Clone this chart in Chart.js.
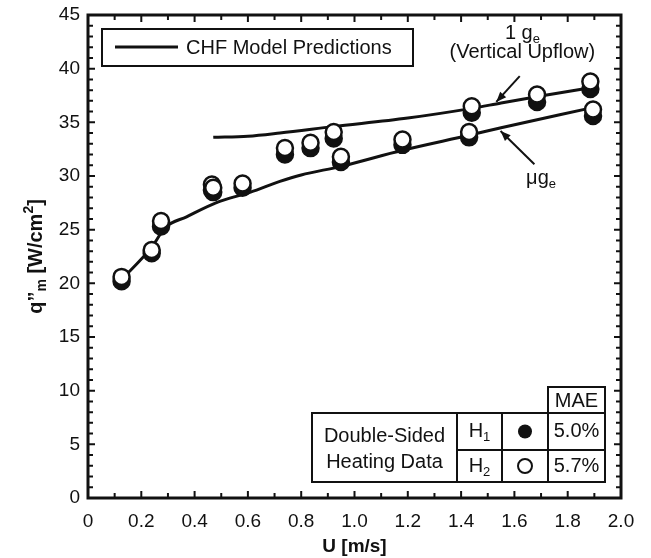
<!DOCTYPE html>
<html>
<head>
<meta charset="utf-8">
<script src="https://cdn.jsdelivr.net/npm/chart.js@4.4.0/dist/chart.umd.min.js"></script>
<style>
  html, body { margin: 0; padding: 0; background: #fff; }
  #wrap { width: 651px; height: 558px; }
</style>
</head>
<body>
<div id="wrap"><canvas id="chf"></canvas></div>
<script>
// measured data, double-sided heating (U [m/s], q"m [W/cm2])
const h2_u = [0.126, 0.239, 0.274, 0.465, 0.47, 0.58, 0.739, 0.835, 0.922, 0.949, 1.18, 1.43, 1.44, 1.685, 1.885, 1.895]
const h2_q = [20.6, 23.1, 25.8, 29.2, 28.9, 29.3, 32.6, 33.1, 34.1, 31.8, 33.4, 34.1, 36.5, 37.6, 38.8, 36.2]
const h1_u = [0.126, 0.239, 0.274, 0.465, 0.47, 0.58, 0.739, 0.835, 0.922, 0.949, 1.18, 1.43, 1.44, 1.685, 1.885, 1.895]
const h1_q = [20.2, 22.8, 25.3, 28.7, 28.5, 28.9, 32.0, 32.6, 33.5, 31.3, 32.9, 33.6, 35.9, 36.9, 38.1, 35.6]

// model predictions
const model_1g_u = [0.47, 0.6, 0.72, 0.92, 1.2, 1.44, 1.55, 1.71, 1.88]
const model_1g_q = [33.6, 33.7, 34.0, 34.6, 35.4, 36.3, 36.8, 37.5, 38.2]
const model_ug_u = [0.12, 0.24, 0.29, 0.37, 0.48, 0.61, 0.72, 0.8, 0.95, 1.18, 1.43, 1.55, 1.88]
const model_ug_q = [20.2, 23.4, 25.2, 26.2, 27.5, 28.5, 29.5, 30.1, 30.9, 32.4, 33.8, 34.5, 36.3]

const mae_rows = [['H', '1', true, '5.0%'], ['H', '2', false, '5.7%']]

const FONT = "'Liberation Sans', Arial, sans-serif"
const TXT = 20

function pts(xs, ys) {
  return xs.map((x, i) => ({ x: x, y: ys[i] }))
}

function textSub(ctx, main, sub, x, y, size) {
  // main text with a subscript, centred on x
  ctx.font = `${size}px ${FONT}`
  let w1 = ctx.measureText(main).width
  ctx.font = `${Math.round(size * 0.65)}px ${FONT}`
  let w2 = ctx.measureText(sub).width
  let x0 = x - (w1 + w2) / 2
  ctx.textAlign = 'left'
  ctx.textBaseline = 'middle'
  ctx.font = `${size}px ${FONT}`
  ctx.fillText(main, x0, y)
  ctx.font = `${Math.round(size * 0.65)}px ${FONT}`
  ctx.fillText(sub, x0 + w1, y + size * 0.3)
}

function arrow(ctx, x1, y1, x2, y2) {
  ctx.save()
  ctx.strokeStyle = '#111'
  ctx.fillStyle = '#111'
  ctx.lineWidth = 2
  ctx.beginPath()
  ctx.moveTo(x1, y1)
  ctx.lineTo(x2, y2)
  ctx.stroke()
  let a = Math.atan2(y2 - y1, x2 - x1)
  let L = 11, W = 0.38
  ctx.beginPath()
  ctx.moveTo(x2, y2)
  ctx.lineTo(x2 - L * Math.cos(a - W), y2 - L * Math.sin(a - W))
  ctx.lineTo(x2 - L * Math.cos(a + W), y2 - L * Math.sin(a + W))
  ctx.closePath()
  ctx.fill()
  ctx.restore()
}

const decorations = {
  id: 'decorations',
  afterDraw(chart) {
    const ctx = chart.ctx
    const a = chart.chartArea
    const xs = chart.scales.x, ys = chart.scales.y
    ctx.save()
    ctx.fillStyle = '#111'
    ctx.strokeStyle = '#111'

    // inward ticks on all four sides
    ctx.lineWidth = 2
    ctx.beginPath()
    for (let i = 1; i < 20; i++) {
      let px = xs.getPixelForValue(i / 10)
      let len = i % 2 == 0 ? 7 : 5
      ctx.moveTo(px, a.bottom); ctx.lineTo(px, a.bottom - len)
      ctx.moveTo(px, a.top); ctx.lineTo(px, a.top + len)
    }
    for (let i = 1; i < 45; i++) {
      let py = ys.getPixelForValue(i)
      let len = i % 5 == 0 ? 7 : 5
      ctx.moveTo(a.left, py); ctx.lineTo(a.left + len, py)
      ctx.moveTo(a.right, py); ctx.lineTo(a.right - len, py)
    }
    ctx.stroke()

    // frame
    ctx.lineWidth = 3
    ctx.strokeRect(a.left, a.top, a.right - a.left, a.bottom - a.top)

    // legend box
    ctx.lineWidth = 2
    ctx.strokeRect(a.left + 14, a.top + 14, 311, 37)
    ctx.lineWidth = 3
    ctx.beginPath()
    ctx.moveTo(a.left + 27, a.top + 32)
    ctx.lineTo(a.left + 90, a.top + 32)
    ctx.stroke()
    ctx.font = `${TXT}px ${FONT}`
    ctx.textAlign = 'left'
    ctx.textBaseline = 'middle'
    ctx.fillText('CHF Model Predictions', a.left + 98, a.top + 33)

    // annotations
    let px = v => xs.getPixelForValue(v), py = v => ys.getPixelForValue(v)
    textSub(ctx, '1 g', 'e', px(1.63), py(43.3), TXT)
    ctx.font = `${TXT}px ${FONT}`
    ctx.textAlign = 'center'
    ctx.fillText('(Vertical Upflow)', px(1.63), py(41.5))
    arrow(ctx, px(1.62), py(39.3), px(1.532), py(36.9))
    textSub(ctx, '\u03bcg', 'e', px(1.7), py(29.8), TXT)
    arrow(ctx, px(1.675), py(31.1), px(1.548), py(34.2))

    // MAE table
    const R = a.right - 16, B = a.bottom - 16
    const c0 = R - 293, c1 = R - 148, c2 = R - 103, c3 = R - 57
    const r0 = B - 95, r1 = B - 69, r2 = B - 32
    ctx.lineWidth = 2
    ctx.strokeRect(c3, r0, R - c3, r1 - r0)
    ctx.strokeRect(c0, r1, R - c0, B - r1)
    ctx.beginPath()
    ctx.moveTo(c1, r1); ctx.lineTo(c1, B)
    ctx.moveTo(c2, r1); ctx.lineTo(c2, B)
    ctx.moveTo(c3, r1); ctx.lineTo(c3, B)
    ctx.moveTo(c1, r2); ctx.lineTo(R, r2)
    ctx.stroke()
    ctx.font = `${TXT}px ${FONT}`
    ctx.textAlign = 'center'
    ctx.textBaseline = 'middle'
    ctx.fillText('MAE', (c3 + R) / 2, (r0 + r1) / 2 + 1)
    ctx.fillText('Double-Sided', (c0 + c1) / 2, r1 + 23)
    ctx.fillText('Heating Data', (c0 + c1) / 2, r1 + 49)
    mae_rows.forEach((row, i) => {
      let top = i == 0 ? r1 : r2, bot = i == 0 ? r2 : B
      let cy = (top + bot) / 2
      textSub(ctx, row[0], row[1], (c1 + c2) / 2, cy, TXT)
      ctx.beginPath()
      ctx.arc((c2 + c3) / 2, cy, 7, 0, Math.PI * 2)
      ctx.lineWidth = 2
      if (row[2]) { ctx.fill() } else { ctx.fillStyle = '#fff'; ctx.fill(); ctx.fillStyle = '#111'; ctx.stroke() }
      ctx.font = `${TXT}px ${FONT}`
      ctx.textAlign = 'center'
      ctx.fillText(row[3], (c3 + R) / 2, cy)
    })

    // y axis title with sub/superscript
    ctx.save()
    ctx.translate(36, (a.top + a.bottom) / 2)
    ctx.rotate(-Math.PI / 2)
    const parts = [['q\u201d', 20, 0], ['m', 14, 6], [' [W/cm', 20, 0], ['2', 14, -7], [']', 20, 0]]
    let total = 0
    parts.forEach(p => { ctx.font = `bold ${p[1]}px ${FONT}`; total += ctx.measureText(p[0]).width })
    let x = -total / 2
    ctx.textAlign = 'left'
    ctx.textBaseline = 'middle'
    parts.forEach(p => {
      ctx.font = `bold ${p[1]}px ${FONT}`
      ctx.fillText(p[0], x, p[2])
      x += ctx.measureText(p[0]).width
    })
    ctx.restore()

    ctx.restore()
  }
}

const data = {
  datasets: [
    { label: 'H2', data: pts(h2_u, h2_q), showLine: false, pointRadius: 8, pointBackgroundColor: '#fff',
      pointBorderColor: '#111', pointBorderWidth: 2.5 },
    { label: 'H1', data: pts(h1_u, h1_q), showLine: false, pointRadius: 8, pointBackgroundColor: '#111',
      pointBorderColor: '#111', pointBorderWidth: 2.5 },
    { label: '1 ge', data: pts(model_1g_u, model_1g_q), showLine: true, pointRadius: 0, borderColor: '#111',
      borderWidth: 3, cubicInterpolationMode: 'monotone' },
    { label: 'ug', data: pts(model_ug_u, model_ug_q), showLine: true, pointRadius: 0, borderColor: '#111',
      borderWidth: 3, cubicInterpolationMode: 'monotone' }
  ]
}

const options = {
  responsive: true,
  maintainAspectRatio: false,
  animation: false,
  layout: { padding: { top: 15, right: 30, left: 0, bottom: 0 } },
  plugins: { legend: { display: false }, tooltip: { enabled: false } },
  scales: {
    x: {
      type: 'linear', min: 0, max: 2,
      grid: { display: false, drawTicks: false },
      border: { display: false },
      ticks: { stepSize: 0.2, color: '#111', padding: 12, maxRotation: 0,
        font: { family: FONT, size: 19 },
        callback: v => v == 0 ? '0' : v.toFixed(1) },
      title: { display: true, text: 'U [m/s]', color: '#111', padding: 0,
        font: { family: FONT, size: 19, weight: 'bold' } },
      afterFit: s => { s.height = 60; s.paddingRight = 0 }
    },
    y: {
      type: 'linear', min: 0, max: 45,
      grid: { display: false, drawTicks: false },
      border: { display: false },
      ticks: { stepSize: 5, color: '#111', padding: 8, font: { family: FONT, size: 19 } },
      afterFit: s => { s.width = 88; s.paddingTop = 0; s.paddingBottom = 0 }
    }
  }
}

new Chart(document.getElementById('chf'), { type: 'scatter', data, options, plugins: [decorations] })
</script>
</body>
</html>
